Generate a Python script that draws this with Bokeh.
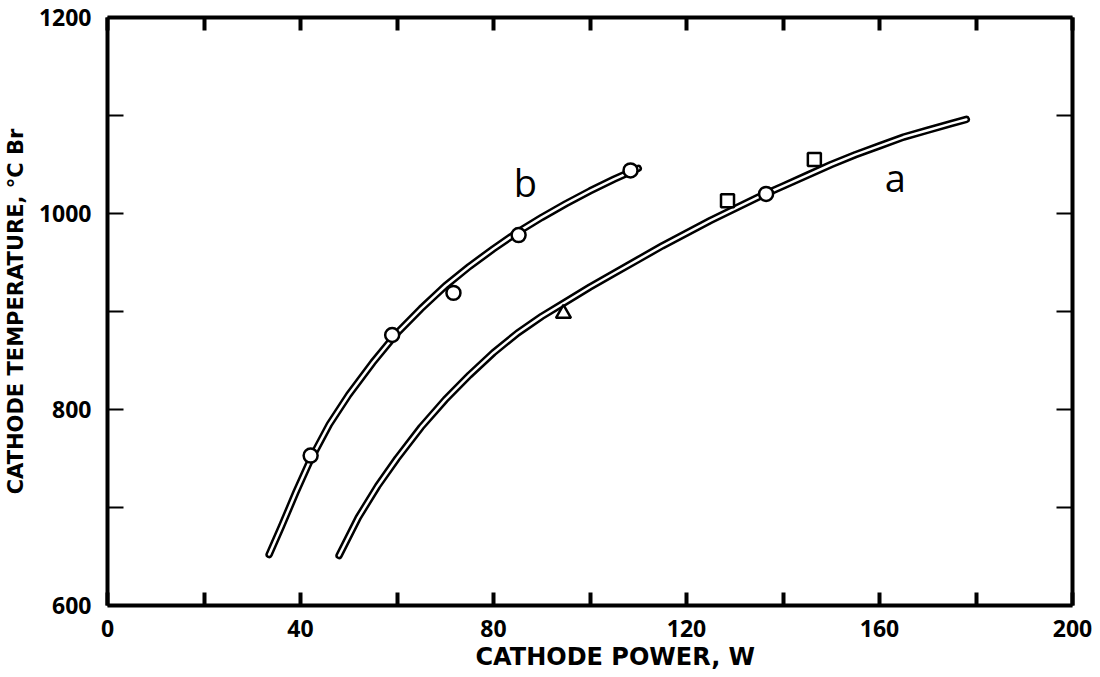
from bokeh.plotting import figure
from bokeh.models import LinearAxis, FixedTicker, CustomLabelingPolicy, Title
from bokeh.core.properties import value
from bokeh.embed import file_html
from bokeh.resources import INLINE

# Curve b: cathode power, W -> temperature, °C Br
b_power = [33.5, 36, 39, 42, 46, 50, 55, 60, 65, 70, 75, 80, 85, 90, 95, 100, 105, 110]
b_temp = [652, 680, 715, 748, 785, 815, 848, 878, 903, 926, 946, 964, 981, 996, 1010, 1023, 1035, 1046]

# Curve a
a_power = [48, 52, 56, 60, 65, 70, 75, 80, 85, 90, 95, 100, 105, 110, 115, 120, 125,
           130, 135, 140, 145, 150, 155, 160, 165, 170, 175, 178]
a_temp = [651, 690, 722, 750, 782, 810, 835, 858, 878, 895, 910, 925, 939, 953, 967, 980, 993,
          1005, 1017, 1028, 1039, 1050, 1060, 1069, 1078, 1085, 1092, 1096]

# Measured points
b_pts_power = [42.1, 59, 71.7, 85.2, 108.4]
b_pts_temp = [753, 876, 919, 978, 1044]
a_tri_power = [94.5]
a_tri_temp = [898]
a_sq_power = [128.5, 146.5]
a_sq_temp = [1013, 1055]
a_circ_power = [136.5]
a_circ_temp = [1020]

x_ticks = [0, 40, 80, 120, 160, 200]
x_minor = [20, 60, 100, 140, 180]
y_ticks = [600, 800, 1000, 1200]
y_minor = [700, 900, 1100]

NUM_FONT = "Open Sans"
TITLE_FONT = "DejaVu Sans"

p = figure(frame_width=965, frame_height=588, x_range=(0, 200), y_range=(600, 1200),
           output_backend="svg", toolbar_location=None,
           min_border_left=107, min_border_right=28, min_border_top=17, min_border_bottom=72)
p.grid.visible = False
p.outline_line_color = None
p.background_fill_color = "white"
p.border_fill_color = "white"

bottom = p.below[0]
left = p.left[0]
top = LinearAxis()
right = LinearAxis()
p.add_layout(top, "above")
p.add_layout(right, "right")

left.axis_label = "CATHODE TEMPERATURE, °C Br"

for ax in (bottom, top):
    ax.ticker = FixedTicker(ticks=x_ticks, minor_ticks=x_minor)
    ax.major_tick_in = 13
    ax.minor_tick_in = 13
    ax.major_tick_line_width = 4
    ax.minor_tick_line_width = 4
for ax in (left, right):
    ax.ticker = FixedTicker(ticks=y_ticks, minor_ticks=y_minor)
    ax.major_tick_in = 16
    ax.minor_tick_in = 16
    ax.major_tick_line_width = 2
    ax.minor_tick_line_width = 2

for ax in (bottom, left, top, right):
    ax.axis_line_width = 4
    ax.axis_line_color = "black"
    ax.major_tick_out = 0
    ax.minor_tick_out = 0
    ax.major_tick_line_color = "black"
    ax.minor_tick_line_color = "black"
    ax.major_label_text_font = NUM_FONT
    ax.major_label_text_font_style = "bold"
    ax.major_label_text_font_size = "23px"
    ax.major_label_text_line_height = 1.0
    ax.major_label_text_color = "black"
    ax.axis_label_text_font = TITLE_FONT
    ax.axis_label_text_font_style = "bold"
    ax.axis_label_text_color = "black"

bottom.major_label_standoff = 14
left.major_label_standoff = 16

left.axis_label_text_font_size = "21px"
left.axis_label_standoff = 8

# x-axis title, set a little right of centre under the frame
x_title = Title(text="CATHODE POWER, W", align="left", offset=368,
                text_font=TITLE_FONT, text_font_style="bold", text_font_size="24px",
                text_line_height=1.0, text_color="black", standoff=3)
p.add_layout(x_title, "below")

# Frame-only axes on top and right: ticks, no labels
hide_all = CustomLabelingPolicy(code="""
    for (const i of indices) { indices.unset(i) }
    return indices
""")
for ax in (top, right):
    ax.major_label_policy = hide_all
    ax.major_label_text_font_size = "0px"
    ax.major_label_standoff = 0

# Curves drawn as hollow "tube" strokes
for xs, ys in ((b_power, b_temp), (a_power, a_temp)):
    p.line(xs, ys, line_color="black", line_width=7.5, line_cap="round", line_join="round")
    p.line(xs, ys, line_color="white", line_width=2.5, line_cap="round", line_join="round")

mk = dict(fill_color="white", line_color="black", line_width=2.5)
p.scatter(b_pts_power, b_pts_temp, marker="circle", size=14, **mk)
p.scatter(a_circ_power, a_circ_temp, marker="circle", size=14, **mk)
p.scatter(a_tri_power, a_tri_temp, marker="triangle", size=15, **mk)
p.scatter(a_sq_power, a_sq_temp, marker="square", size=13, **mk)

# Curve identifiers
p.text(x=[86.6], y=[1032], text=["b"], text_font=value(NUM_FONT), text_font_size="38px",
       text_align="center", text_baseline="middle", text_color="black")
p.text(x=[163.3], y=[1037], text=["a"], text_font=value(NUM_FONT), text_font_size="38px",
       text_align="center", text_baseline="middle", text_color="black")

open("out.html", "w").write(file_html(p, INLINE))
